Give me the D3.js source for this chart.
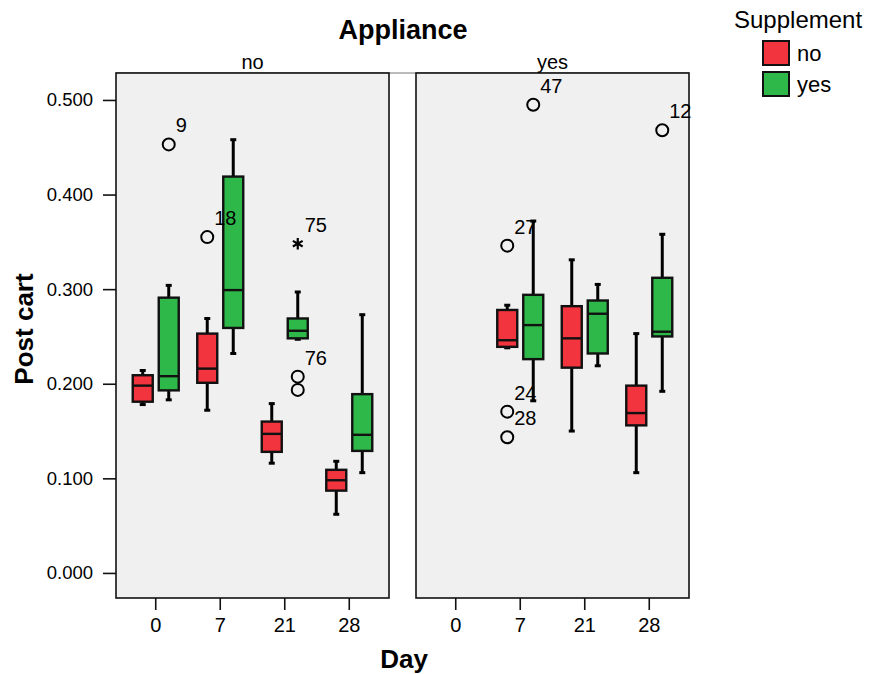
<!DOCTYPE html>
<html>
<head>
<meta charset="utf-8">
<script src="https://cdn.jsdelivr.net/npm/d3@7"></script>
<style>
  body { margin: 0; background: #fff; }
  text { font-family: "Liberation Sans", Arial, sans-serif; fill: #000; }
</style>
</head>
<body>
<svg id="chart" width="872" height="674"></svg>
<script>
// categories
const appliances = ['no', 'yes'];
const supplements = ['no', 'yes'];
const days = ['0', '7', '21', '28'];
const yTicks = [0, 0.1, 0.2, 0.3, 0.4, 0.5];

// box stats per day: [lower whisker, q1, median, q3, upper whisker]
const applNoSuppNo = [
    [0.178, 0.181, 0.198, 0.209, 0.214],
    [0.172, 0.201, 0.216, 0.253, 0.269],
    [0.116, 0.128, 0.147, 0.160, 0.179],
    [0.062, 0.087, 0.098, 0.109, 0.118]
];
const applNoSuppYes = [
    [0.183, 0.193, 0.208, 0.291, 0.304],
    [0.232, 0.259, 0.299, 0.419, 0.458],
    [0.247, 0.248, 0.256, 0.269, 0.297],
    [0.106, 0.129, 0.146, 0.189, 0.273]
];
const applYesSuppNo = [
    null,
    [0.238, 0.239, 0.246, 0.278, 0.283],
    [0.150, 0.217, 0.248, 0.282, 0.331],
    [0.106, 0.156, 0.169, 0.198, 0.253]
];
const applYesSuppYes = [
    null,
    [0.182, 0.226, 0.262, 0.294, 0.372],
    [0.219, 0.232, 0.274, 0.288, 0.305],
    [0.192, 0.250, 0.255, 0.312, 0.358]
];
const boxStats = {
    no: { no: applNoSuppNo, yes: applNoSuppYes },
    yes: { no: applYesSuppNo, yes: applYesSuppYes }
};

// outliers: appliance, day, supplement, value, case label, kind
const outlierAppl  = ['no', 'no', 'no', 'no', 'no', 'yes', 'yes', 'yes', 'yes', 'yes'];
const outlierDay   = ['0', '7', '21', '21', '21', '7', '7', '7', '7', '28'];
const outlierSupp  = ['yes', 'no', 'yes', 'yes', 'yes', 'no', 'no', 'no', 'yes', 'yes'];
const outlierValue = [0.453, 0.355, 0.348, 0.2075, 0.1935, 0.346, 0.1705, 0.1435, 0.495, 0.468];
const outlierLabel = ['9', '18', '75', '76', '', '27', '24', '28', '47', '12'];
const outlierKind  = ['o', 'o', '*', 'o', 'o', 'o', 'o', 'o', 'o', 'o'];

const colors = { no: '#f2343e', yes: '#2fb84a' };

const svg = d3.select('#chart');

const y = d3.scaleLinear().domain([-0.0265, 0.5285]).range([598, 73]);

const panelX = d3.scaleBand().domain(appliances).range([116, 689]).paddingInner(0.09);
const dayX = d3.scaleBand().domain(days).range([0, panelX.bandwidth()]).paddingOuter(0.116);
const suppX = d3.scalePoint().domain(supplements).range([-13, 13]);
const boxW = 20;

// gap line on top between panels
svg.append('line')
    .attr('x1', panelX('no')).attr('x2', panelX('yes') + panelX.bandwidth())
    .attr('y1', y.range()[1]).attr('y2', y.range()[1])
    .attr('stroke', '#777').attr('stroke-width', 1);

appliances.forEach((appl) => {
    let g = svg.append('g').attr('transform', `translate(${panelX(appl)},0)`);
    let w = panelX.bandwidth();

    g.append('rect')
        .attr('x', 0).attr('y', y.range()[1])
        .attr('width', w).attr('height', y.range()[0] - y.range()[1])
        .attr('fill', '#f0f0f0').attr('stroke', '#111').attr('stroke-width', 1.6);

    g.append('text')
        .attr('x', w / 2).attr('y', 69)
        .attr('text-anchor', 'middle')
        .style('font-size', '20px')
        .text(appl);

    // x axis
    let xAxis = g.append('g')
        .attr('transform', `translate(0,${y.range()[0]})`)
        .call(d3.axisBottom(dayX).tickSize(12).tickSizeOuter(0).tickPadding(8));
    xAxis.select('.domain').remove();
    xAxis.selectAll('line').attr('stroke', '#111').attr('stroke-width', 1.6);
    xAxis.selectAll('text').style('font-size', '20px').attr('font-family', null);

    supplements.forEach((supp) => {
        boxStats[appl][supp].forEach((s, i) => {
            if (s === null) return;
            let cx = dayX(days[i]) + dayX.bandwidth() / 2 + suppX(supp);
            let b = g.append('g');
            // whiskers
            b.append('line')
                .attr('x1', cx).attr('x2', cx)
                .attr('y1', y(s[0])).attr('y2', y(s[4]))
                .attr('stroke', '#000').attr('stroke-width', 3);
            [s[0], s[4]].forEach((v) => {
                b.append('line')
                    .attr('x1', cx - 3).attr('x2', cx + 3)
                    .attr('y1', y(v)).attr('y2', y(v))
                    .attr('stroke', '#000').attr('stroke-width', 3);
            });
            b.append('rect')
                .attr('x', cx - boxW / 2).attr('y', y(s[3]))
                .attr('width', boxW).attr('height', y(s[1]) - y(s[3]))
                .attr('fill', colors[supp]).attr('stroke', '#111').attr('stroke-width', 2.4);
            b.append('line')
                .attr('x1', cx - boxW / 2).attr('x2', cx + boxW / 2)
                .attr('y1', y(s[2])).attr('y2', y(s[2]))
                .attr('stroke', '#111').attr('stroke-width', 2.4);
        });
    });

    // outliers
    outlierValue.forEach((v, i) => {
        if (outlierAppl[i] !== appl) return;
        let cx = dayX(outlierDay[i]) + dayX.bandwidth() / 2 + suppX(outlierSupp[i]);
        let cy = y(v);
        if (outlierKind[i] === '*') {
            g.append('path')
                .attr('d', d3.symbol().type(d3.symbolAsterisk).size(90)())
                .attr('transform', `translate(${cx},${cy})`)
                .attr('fill', 'none').attr('stroke', '#000').attr('stroke-width', 2.2);
        } else {
            g.append('circle')
                .attr('cx', cx).attr('cy', cy).attr('r', 6)
                .attr('fill', 'none').attr('stroke', '#000').attr('stroke-width', 2);
        }
        if (outlierLabel[i]) {
            g.append('text')
                .attr('x', cx + 7).attr('y', cy - 12)
                .style('font-size', '20px')
                .text(outlierLabel[i]);
        }
    });
});

// y axis
let yAxis = svg.append('g')
    .attr('transform', `translate(${panelX('no')},0)`)
    .call(d3.axisLeft(y).tickValues(yTicks).tickFormat(d3.format('.3f')).tickSize(13).tickPadding(10));
yAxis.select('.domain').remove();
yAxis.selectAll('line').attr('stroke', '#111').attr('stroke-width', 1.6);
yAxis.selectAll('text').style('font-size', '18.5px').attr('font-family', null);

// titles
svg.append('text')
    .attr('x', 403).attr('y', 39)
    .attr('text-anchor', 'middle')
    .style('font-size', '27px').style('font-weight', 'bold')
    .text('Appliance');

svg.append('text')
    .attr('x', 404).attr('y', 668)
    .attr('text-anchor', 'middle')
    .style('font-size', '26px').style('font-weight', 'bold')
    .text('Day');

svg.append('text')
    .attr('transform', 'translate(33,329) rotate(-90)')
    .attr('text-anchor', 'middle')
    .style('font-size', '26px').style('font-weight', 'bold')
    .text('Post cart');

// legend
let legend = svg.append('g');
legend.append('text')
    .attr('x', 734).attr('y', 28)
    .style('font-size', '24px')
    .text('Supplement');
supplements.forEach((supp, i) => {
    legend.append('rect')
        .attr('x', 763).attr('y', 41 + i * 31)
        .attr('width', 26).attr('height', 24)
        .attr('fill', colors[supp]).attr('stroke', '#111').attr('stroke-width', 2);
    legend.append('text')
        .attr('x', 797).attr('y', 61 + i * 31)
        .style('font-size', '22px')
        .text(supp);
});
</script>
</body>
</html>
